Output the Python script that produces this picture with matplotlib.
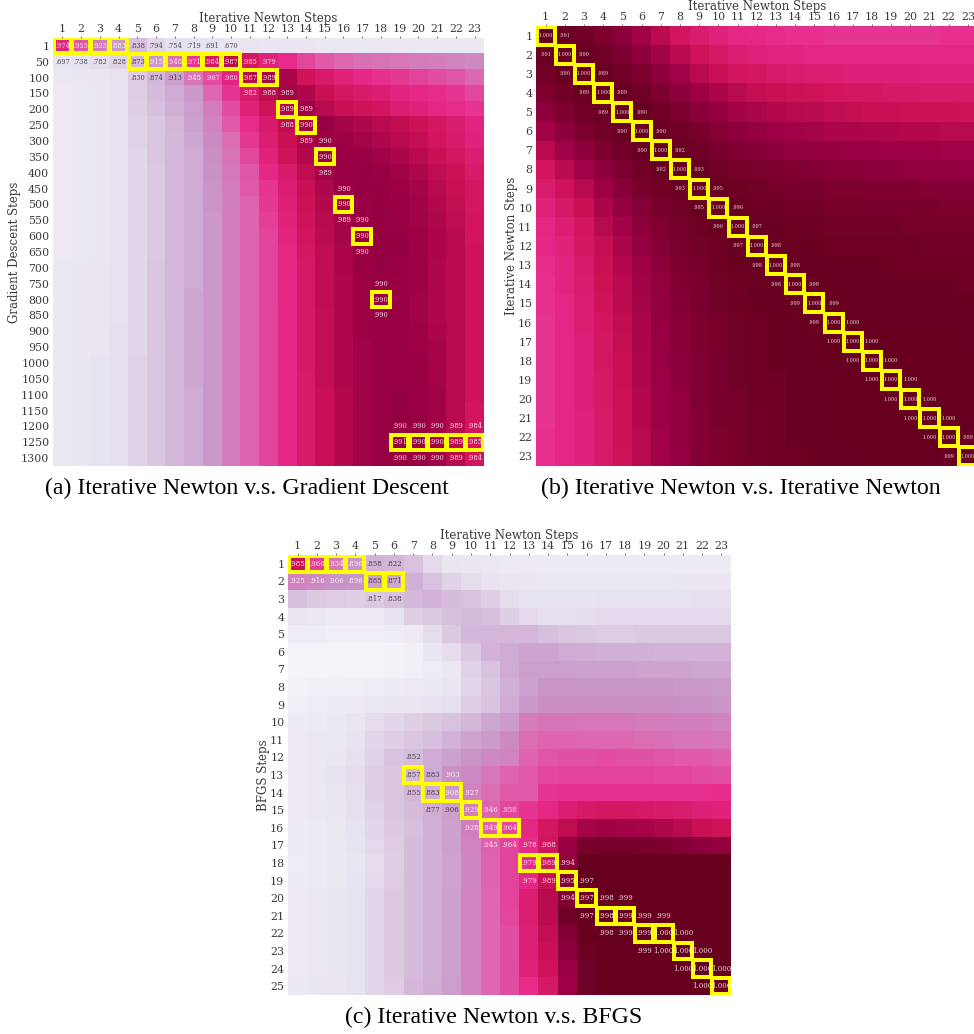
import numpy as np
import matplotlib
matplotlib.use("Agg")
import matplotlib.pyplot as plt
from matplotlib.patches import Rectangle

W, H = 974, 1034

newton_steps = [str(i) for i in range(1, 24)]
gd_steps = ["1"] + [str(i) for i in range(50, 1301, 50)]
bfgs_steps = [str(i) for i in range(1, 26)]

# Colour level of each cell on the PuRd scale (0-100)
levels_a = [
    [65,53,44,36,23,16,13,12,11,10,10,9,9,9,8,8,8,8,8,8,8,8,8],
    [11,12,14,17,25,36,48,60,72,79,72,66,62,56,52,49,47,46,45,44,43,42,40],
    [8,9,10,12,19,25,33,45,55,65,80,84,83,74,70,66,63,61,59,57,55,53,49],
    [7,8,9,11,19,24,30,36,49,60,70,78,84,82,76,72,70,68,65,63,62,60,56],
    [7,8,9,11,18,23,28,34,44,55,66,74,82,85,80,76,74,73,68,66,64,62,60],
    [7,8,9,11,17,21,26,33,42,52,62,70,78,85,87,84,82,80,78,75,72,69,65],
    [7,8,9,11,17,21,25,31,40,48,59,68,76,83,86,86,84,82,80,77,73,70,66],
    [7,8,9,11,16,21,25,30,39,46,56,66,74,81,86,87,87,85,83,80,76,72,68],
    [7,8,9,11,16,20,25,30,38,45,53,63,70,78,84,87,88,87,85,82,78,75,70],
    [7,8,9,11,16,20,25,30,37,44,52,60,68,76,82,86,88,88,86,84,80,76,72],
    [7,8,9,12,16,20,25,30,37,43,50,59,67,75,81,85,87,88,87,85,81,77,72],
    [7,8,9,12,16,20,25,30,36,43,50,58,66,74,80,84,87,88,87,85,82,78,73],
    [7,8,9,12,16,20,25,30,36,43,50,57,65,73,79,84,88,88,88,86,83,79,73],
    [7,8,9,12,16,20,25,30,36,43,50,57,64,72,78,83,87,88,88,86,83,79,74],
    [8,9,10,12,16,21,25,30,36,43,50,57,64,71,78,83,87,88,87,86,82,79,74],
    [8,9,10,12,16,21,25,30,36,43,50,57,64,71,78,82,86,88,87,86,82,79,74],
    [8,9,10,12,16,21,25,31,36,43,50,57,64,71,78,82,86,88,87,85,82,79,74],
    [8,9,10,12,16,21,25,31,36,43,50,57,63,71,77,82,86,87,87,85,82,79,74],
    [8,9,10,13,16,21,26,31,36,43,50,57,63,71,77,82,86,87,87,86,83,80,74],
    [8,9,10,13,16,21,26,31,36,43,50,57,63,71,77,82,85,87,87,86,84,80,74],
    [8,10,11,13,17,21,26,31,36,43,50,57,63,71,77,82,85,87,87,87,84,80,74],
    [8,10,11,13,17,21,26,31,36,43,50,57,63,70,77,82,85,87,87,87,84,80,74],
    [8,10,11,13,17,21,26,30,36,43,50,57,63,70,76,81,85,87,88,87,85,80,74],
    [8,10,11,13,17,21,26,30,36,43,50,57,63,70,76,81,85,87,88,87,85,80,73],
    [8,10,11,13,17,21,26,30,36,43,50,57,63,70,76,81,85,87,88,87,85,80,73],
    [8,10,11,13,17,21,26,30,36,43,50,57,63,70,76,81,85,87,88,87,85,80,73],
    [8,10,11,13,17,21,26,30,36,43,50,57,63,70,76,81,85,87,88,87,85,80,73],
]
levels_b = [
    [100,99,97,94,90,85,79,73,69,66,64,63,62,61,61,60,60,60,60,60,60,61,61],
    [99,100,99,97,94,90,85,79,74,71,68,66,65,65,64,64,64,64,64,64,64,64,64],
    [97,99,100,99,97,94,90,85,80,76,73,72,70,69,68,68,67,67,67,67,66,66,66],
    [94,97,99,100,99,97,94,90,86,83,80,77,76,75,74,73,72,72,71,71,70,70,70],
    [90,94,97,99,100,99,97,94,91,88,85,83,81,80,79,78,77,76,76,75,75,75,74],
    [85,90,94,97,99,100,99,97,95,92,90,88,86,85,84,83,83,82,82,81,81,80,80],
    [79,85,90,94,97,99,100,99,97,95,93,92,90,89,89,88,87,87,86,86,86,85,85],
    [73,79,85,90,94,97,99,100,99,97,96,95,94,93,92,91,91,90,90,89,89,89,88],
    [69,74,80,86,91,95,97,99,100,99,98,97,96,95,95,94,94,93,93,93,92,92,92],
    [66,71,76,83,88,92,95,97,99,100,99,98,98,97,97,96,96,95,95,95,95,94,94],
    [64,68,73,80,85,90,93,96,98,99,100,99,99,98,98,97,97,97,97,96,96,96,96],
    [63,66,72,77,83,88,92,95,97,98,99,100,99,99,99,98,98,98,98,98,97,97,97],
    [62,65,70,76,81,86,90,94,96,98,99,99,100,99,99,99,99,99,98,98,98,98,98],
    [61,65,69,75,80,85,89,93,95,97,98,99,99,100,99,99,99,99,99,99,99,99,98],
    [61,64,68,74,79,84,89,92,95,97,98,99,99,99,100,99,99,99,99,99,99,99,99],
    [60,64,68,73,78,83,88,91,94,96,97,98,99,99,99,100,100,100,99,99,99,99,99],
    [60,64,67,72,77,83,87,91,94,96,97,98,99,99,99,100,100,100,100,100,100,100,99],
    [60,64,67,72,76,82,87,90,93,95,97,98,99,99,99,100,100,100,100,100,100,100,100],
    [60,64,67,71,76,82,86,90,93,95,97,98,98,99,99,99,100,100,100,100,100,100,100],
    [60,64,67,71,75,81,86,89,93,95,96,98,98,99,99,99,100,100,100,100,100,100,100],
    [60,64,66,70,75,81,86,89,92,95,96,97,98,99,99,99,100,100,100,100,100,100,100],
    [61,64,66,70,75,80,85,89,92,94,96,97,98,99,99,99,100,100,100,100,100,100,99],
    [61,64,66,70,74,80,85,88,92,94,96,97,98,98,99,99,99,100,100,100,100,99,100],
]
levels_c = [
    [76,58,45,37,27,26,22,15,10,9,8,7,7,6,6,6,6,6,6,6,6,6,6],
    [42,40,38,37,33,31,28,22,17,14,11,10,9,8,8,8,8,8,8,8,9,9,9],
    [23,20,19,18,20,22,25,27,24,22,18,14,12,11,11,11,12,12,12,12,12,13,13],
    [9,8,7,7,7,12,18,20,23,24,23,18,15,13,13,14,15,15,15,15,15,15,15],
    [5,5,4,4,4,5,7,14,20,25,26,26,25,23,21,20,19,19,20,20,20,20,20],
    [1,1,1,1,1,2,3,9,14,20,27,30,32,32,30,29,28,28,28,27,27,27,27],
    [0,0,0,1,1,2,3,5,8,17,22,30,34,34,34,33,33,33,32,32,32,31,31],
    [2,3,4,4,5,6,7,8,10,16,21,28,33,37,37,37,37,37,37,37,36,36,35],
    [4,5,6,7,8,9,9,11,13,18,22,30,36,39,39,39,39,39,39,39,38,38,37],
    [6,7,8,10,14,16,18,20,22,26,31,35,44,46,46,45,45,45,44,44,43,43,42],
    [7,8,8,11,16,18,21,23,27,32,35,40,48,50,50,49,49,49,48,47,46,46,45],
    [7,8,9,13,17,22,24,30,33,37,40,42,50,53,54,54,55,54,54,53,52,52,51],
    [7,8,11,14,18,21,26,30,38,40,45,50,52,56,57,57,57,57,57,56,56,55,54],
    [7,8,10,13,18,21,26,29,36,42,48,52,52,60,61,61,61,61,61,61,61,61,62],
    [7,8,9,13,17,21,24,29,34,43,50,56,60,64,68,71,72,72,71,70,69,67,66],
    [6,7,8,12,16,20,23,28,33,43,51,56,64,72,78,84,86,85,84,82,80,76,74],
    [6,7,8,11,15,19,24,28,33,42,51,57,62,73,87,95,96,96,95,94,92,90,89],
    [5,7,8,10,14,18,24,28,32,41,50,57,62,72,89,100,100,100,100,100,100,100,100],
    [6,7,8,11,15,19,24,28,32,41,50,57,63,76,92,100,100,100,100,100,100,100,100],
    [7,8,9,12,16,20,24,28,33,42,49,57,68,80,93,98,100,100,100,100,100,100,100],
    [7,8,9,12,16,20,24,28,33,42,49,56,68,79,97,100,100,100,100,100,100,100,100],
    [7,8,9,12,16,20,24,28,33,42,49,55,67,77,92,100,100,100,100,100,100,100,100],
    [7,8,9,12,16,20,24,28,33,42,49,55,67,76,90,98,100,100,100,100,100,100,100],
    [7,8,9,12,16,20,24,28,33,42,49,55,66,74,87,97,100,100,100,100,100,100,100],
    [8,9,10,12,16,19,25,29,34,42,49,55,62,71,86,97,100,100,100,100,100,100,100],
]

# Printed similarity values: row index -> (first column index, texts)
labels_a = {
    0: (0, ".974 .955 .923 .883 .838 .794 .754 .719 .691 .670"),
    1: (0, ".697 .738 .782 .828 .873 .915 .948 .971 .984 .987 .985 .979"),
    2: (4, ".830 .874 .913 .945 .967 .980 .987 .989"),
    3: (10, ".982 .988 .989"),
    4: (12, ".989 .989"),
    5: (12, ".988 .990"),
    6: (13, ".989 .990"),
    7: (14, ".990"),
    8: (14, ".989"),
    9: (15, ".990"),
    10: (15, ".990"),
    11: (15, ".989 .990"),
    12: (16, ".990"),
    13: (16, ".990"),
    15: (17, ".990"),
    16: (17, ".990"),
    17: (17, ".990"),
    24: (18, ".990 .990 .990 .989 .984"),
    25: (18, ".991 .990 .990 .989 .985"),
    26: (18, ".990 .990 .990 .989 .984"),
}
labels_b = {
    0: (0, "1.000 .991"),
    1: (0, ".991 1.000 .990"),
    2: (1, ".990 1.000 .989"),
    3: (2, ".989 1.000 .989"),
    4: (3, ".989 1.000 .990"),
    5: (4, ".990 1.000 .990"),
    6: (5, ".990 1.000 .992"),
    7: (6, ".992 1.000 .993"),
    8: (7, ".993 1.000 .995"),
    9: (8, ".995 1.000 .996"),
    10: (9, ".996 1.000 .997"),
    11: (10, ".997 1.000 .998"),
    12: (11, ".998 1.000 .998"),
    13: (12, ".998 1.000 .999"),
    14: (13, ".999 1.000 .999"),
    15: (14, ".999 1.000 1.000"),
    16: (15, "1.000 1.000 1.000"),
    17: (16, "1.000 1.000 1.000"),
    18: (17, "1.000 1.000 1.000"),
    19: (18, "1.000 1.000 1.000"),
    20: (19, "1.000 1.000 1.000"),
    21: (20, "1.000 1.000 .999"),
    22: (21, ".999 1.000"),
}
labels_c = {
    0: (0, ".985 .966 .934 .896 .858 .822"),
    1: (0, ".925 .916 .906 .896 .885 .871"),
    2: (4, ".817 .838"),
    11: (6, ".852"),
    12: (6, ".857 .883 .903"),
    13: (6, ".855 .883 .908 .927"),
    14: (7, ".877 .906 .929 .946 .958"),
    15: (9, ".928 .949 .964"),
    16: (10, ".945 .964 .978 .988"),
    17: (12, ".979 .989 .994"),
    18: (12, ".979 .989 .995 .997"),
    19: (14, ".994 .997 .998 .999"),
    20: (15, ".997 .998 .999 .999 .999"),
    21: (16, ".998 .999 .999 1.000 1.000"),
    22: (18, ".999 1.000 1.000 1.000"),
    23: (20, "1.000 1.000 1.000"),
    24: (21, "1.000 1.000"),
}

# Highlighted cells: (row index, column index)
marks_a = [(0,0),(0,1),(0,2),(0,3),(1,4),(1,5),(1,6),(1,7),(1,8),(1,9),(2,10),(2,11),
           (4,12),(5,13),(7,14),(10,15),(12,16),(16,17),(25,18),(25,19),(25,20),(25,21),(25,22)]
marks_b = [(i, i) for i in range(23)]
marks_c = [(0,0),(0,1),(0,2),(0,3),(1,4),(1,5),(12,6),(13,7),(13,8),(14,9),(15,10),(15,11),
           (17,12),(17,13),(18,14),(19,15),(20,16),(20,17),(21,18),(21,19),(22,20),(23,21),(24,22)]

cmap = plt.get_cmap("PuRd")
fig = plt.figure(figsize=(W / 100, H / 100), dpi=100)
DARK = "#3a3a3a"


def luminance(rgba):
    c = np.array(rgba[:3])
    c = np.where(c <= 0.03928, c / 12.92, ((c + 0.055) / 1.055) ** 2.4)
    return c.dot([0.2126, 0.7152, 0.0722])


def panel(box, levels, labels, marks, ylabels, ylabel, xlabel_pad, ylabel_xy, caption, caption_xy, annot_size):
    x0, y0, x1, y1 = box
    ax = fig.add_axes([x0 / W, 1 - y1 / H, (x1 - x0) / W, (y1 - y0) / H])
    data = np.array(levels, dtype=float)
    ax.imshow(data, cmap=cmap, vmin=0, vmax=100, aspect="auto", interpolation="nearest")
    for s in ax.spines.values():
        s.set_visible(False)
    ax.xaxis.tick_top()
    ax.xaxis.set_label_position("top")
    ax.set_xticks(range(len(newton_steps)), newton_steps)
    ax.set_yticks(range(len(ylabels)), ylabels)
    ax.tick_params(axis="x", length=1.8, width=0.5, pad=1.4, labelsize=7.9, colors=DARK)
    ax.tick_params(axis="y", length=0, pad=2.7, labelsize=7.9, colors=DARK)
    for lab in ax.get_xticklabels() + ax.get_yticklabels():
        lab.set_family("DejaVu Serif")
    ax.set_xlabel("Iterative Newton Steps", family="DejaVu Serif", fontsize=8.5, color=DARK, labelpad=xlabel_pad)
    fig.text(ylabel_xy[0] / W, 1 - ylabel_xy[1] / H, ylabel, rotation=90, ha="center", va="center",
             family="DejaVu Serif", fontsize=8.5, color=DARK)
    for r, (start, texts) in labels.items():
        for k, t in enumerate(texts.split()):
            c = start + k
            col = "white" if luminance(cmap(data[r, c] / 100)) < 0.408 else "#303030"
            ax.text(c, r, t, ha="center", va="center", family="DejaVu Serif", fontsize=annot_size,
                    color=col, alpha=0.85)
    for r, c in marks:
        ax.add_patch(Rectangle((c - 0.5 + 0.03, r - 0.5 + 0.03), 0.94, 0.94, fill=False,
                               edgecolor="#ffff00", linewidth=2.9, joinstyle="miter"))
    fig.text(caption_xy[0] / W, 1 - caption_xy[1] / H, caption, ha="center", va="center",
             family="Liberation Serif", fontsize=17.2, color="black")


panel((53, 38, 484, 466), levels_a, labels_a, marks_a, gd_steps, "Gradient Descent Steps", 1.2, (15, 252),
      "(a) Iterative Newton v.s. Gradient Descent", (247, 488), 4.8)
panel((536, 26, 977.5, 466), levels_b, labels_b, marks_b, newton_steps, "Iterative Newton Steps", 1.2, (512, 246),
      "(b) Iterative Newton v.s. Iterative Newton", (741, 488), 3.5)
panel((288, 555, 731, 995), levels_c, labels_c, marks_c, bfgs_steps, "BFGS Steps", 1.2, (264, 775),
      "(c) Iterative Newton v.s. BFGS", (494, 1017), 5.0)

fig.savefig("out.png", dpi=100)
